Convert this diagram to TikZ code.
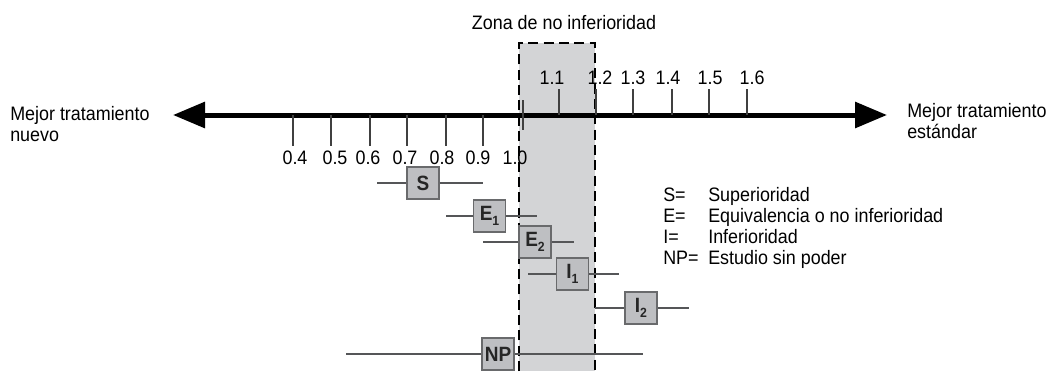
\documentclass[tikz,border=0pt]{standalone}
\usepackage{fontspec}
\setmainfont[FakeStretch=0.92]{Liberation Sans}
\usetikzlibrary{arrows.meta}

\definecolor{zonegray}{RGB}{211,212,214}
\definecolor{boxgray}{RGB}{190,191,194}
\definecolor{edgegray}{RGB}{105,106,108}
\definecolor{linegray}{RGB}{85,86,88}
\newcommand{\boxsub}[1]{\raisebox{-0.5ex}{\fontsize{10}{10}\selectfont #1}}

\begin{document}
\begin{tikzpicture}[x=0.75pt, y=-0.75pt,
    every node/.style={font=\fontsize{14.6}{16}\selectfont, inner sep=0pt},
    tick/.style={line width=0.9pt, color=black!75},
    whisker/.style={line width=1pt, color=linegray},
    estbox/.style={draw=edgegray, fill=boxgray, line width=0.8pt,
      minimum width=24pt, minimum height=24pt,
      font=\fontsize{15.5}{16}\selectfont\bfseries, text=black!85},
    zoneedge/.style={line width=1.5pt, dash pattern=on 7.5pt off 4pt}]
    \useasboundingbox (0,0) rectangle (1055,371);

    % zone of non inferiority
    \fill[zonegray] (519,43) rectangle (595,371);
    \draw[zoneedge] (519,371) -- (519,43) -- (595,43) -- (595,371);
    \node (zonelab) at (564,23) {Zona de no inferioridad};

    % main axis
    \coordinate (axisL) at (173,115);
    \coordinate (axisR) at (887,115);
    \draw[line width=3.75pt, {Triangle[length=24pt,width=19pt]}-{Triangle[length=24pt,width=19pt]}] (axisL) -- (axisR);

    \foreach \n/\x/\lx in {4/293/295, 5/331/335, 6/370/368, 7/407/405, 8/446/442, 9/483/478} {
        \draw[tick] (\x,115) -- (\x,146);
        \node (lab0\n) at (\lx,158) {0.\n};
    }
    \draw[tick] (523,100) -- (523,130);
    \node (lab10) at (515,158) {1.0};
    \foreach \n/\x/\lx in {1/559/552, 2/596/600, 3/633/633, 4/672/668, 5/709/710, 6/747/752} {
        \draw[tick] (\x,115) -- (\x,89);
        \node (lab1\n) at (\lx,78) {1.\n};
    }

    \node[anchor=west, align=left] (newbest) at (10,124) {Mejor tratamiento\\nuevo};
    \node[anchor=west, align=left] (stdbest) at (907,121) {Mejor tratamiento\\estándar};

    % estimates with their intervals
    \node[estbox] (S) at (423,183) {S};
    \node[estbox] (E1) at (489.5,216) {E\boxsub{1}};
    \node[estbox] (E2) at (535,242) {E\boxsub{2}};
    \node[estbox] (I1) at (572.5,274) {I\boxsub{1}};
    \node[estbox] (I2) at (641,308) {I\boxsub{2}};
    \node[estbox] (NP) at (498,354) {NP};

    \foreach \b/\l/\r/\y in {S/377/483/183, E1/446/537/216, E2/483/574/242, I1/528/619/274, I2/595/689/308, NP/346/643/354} {
        \coordinate (\b-lo) at (\l,\y);
        \coordinate (\b-hi) at (\r,\y);
        \draw[whisker] (\b-lo) -- (\b) -- (\b-hi);
    }

    % legend
    \foreach \i/\k/\t/\y in {1/S=/Superioridad/201, 2/E=/Equivalencia o no inferioridad/222, 3/I=/Inferioridad/243, 4/NP=/Estudio sin poder/264} {
        \node[anchor=base west] (key\i) at (663,\y) {\k};
        \node[anchor=base west] (def\i) at (708,\y) {\t};
    }
\end{tikzpicture}
\end{document}
